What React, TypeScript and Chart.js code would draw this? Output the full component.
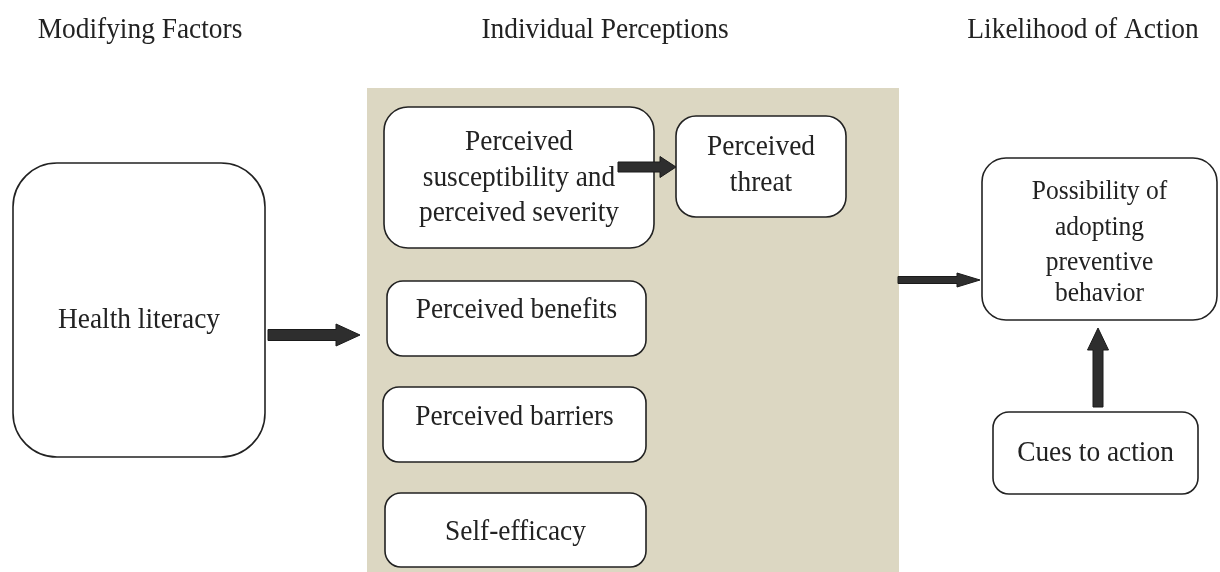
import React, { useEffect, useRef } from "react";
import { Chart, registerables } from "chart.js";

Chart.register(...registerables);

// Column headings
const headingLabels = ["Modifying Factors", "Individual Perceptions", "Likelihood of Action"];
const headingX = [140, 605, 1083];
const headingY = [30, 30, 30];

// Shaded panel (x0, x1, y0, y1)
const panelExtent = [367, 899, 88, 572];

// Boxes
const boxLabels = [
  ["Health literacy"],
  ["Perceived", "susceptibility and", "perceived severity"],
  ["Perceived", "threat"],
  ["Perceived benefits"],
  ["Perceived barriers"],
  ["Self-efficacy"],
  ["Possibility of", "adopting", "preventive", "behavior"],
  ["Cues to action"],
];
const boxX0 = [13, 384, 676, 387, 383, 385, 982, 993];
const boxX1 = [265, 654, 846, 646, 646, 646, 1217, 1198];
const boxY0 = [163, 107, 116, 281, 387, 493, 158, 412];
const boxY1 = [457, 248, 217, 356, 462, 567, 320, 494];
const boxRadius = [44, 24, 20, 16, 16, 16, 24, 16];
const boxFontSize = [27.4, 27.4, 27.4, 27.4, 27.4, 27.4, 25.5, 27.4];
const boxTextY = [
  [320],
  [142, 178, 213],
  [147, 183],
  [310],
  [417],
  [532],
  [192, 228, 263, 294],
  [453],
];

// Arrows (from -> to)
const arrowX0 = [268, 618, 898, 1098];
const arrowY0 = [335, 167, 280, 407];
const arrowX1 = [360, 676, 980, 1098];
const arrowY1 = [335, 167, 280, 328];
const arrowShaft = [11, 10, 7, 10];
const arrowHeadW = [22, 21, 14, 21];
const arrowHeadL = [24, 16, 23, 22];

const FONT = "'Liberation Serif', 'Times New Roman', serif";
const TEXT_VSCALE = 1.1;

function drawText(ctx: any, t: string, x: number, y: number, size: number) {
  ctx.save();
  ctx.font = `${size}px ${FONT}`;
  ctx.textAlign = "center";
  ctx.textBaseline = "middle";
  ctx.fillStyle = "#222";
  ctx.translate(x, y);
  ctx.scale(1, TEXT_VSCALE);
  ctx.fillText(t, 0, 0);
  ctx.restore();
}

const diagramPlugin = {
  id: "diagram",
  beforeDatasetsDraw(chart: any) {
    const ctx = chart.ctx;
    const xs = chart.scales.x;
    const ys = chart.scales.y;
    const px = (v: number) => xs.getPixelForValue(v);
    const py = (v: number) => ys.getPixelForValue(v);

    ctx.save();
    ctx.fillStyle = "#ffffff";
    ctx.fillRect(0, 0, chart.width, chart.height);

    ctx.fillStyle = "#dcd7c2";
    ctx.fillRect(px(panelExtent[0]), py(panelExtent[2]), px(panelExtent[1]) - px(panelExtent[0]), py(panelExtent[3]) - py(panelExtent[2]));

    headingLabels.forEach((t, i) => drawText(ctx, t, px(headingX[i]), py(headingY[i]), 27.4));

    boxLabels.forEach((lines, i) => {
      const x0 = px(boxX0[i]);
      const x1 = px(boxX1[i]);
      const y0 = py(boxY0[i]);
      const y1 = py(boxY1[i]);
      ctx.beginPath();
      ctx.roundRect(x0, y0, x1 - x0, y1 - y0, boxRadius[i]);
      ctx.fillStyle = "#ffffff";
      ctx.fill();
      ctx.lineWidth = 1.6;
      ctx.strokeStyle = "#222";
      ctx.stroke();
      const cx = (x0 + x1) / 2;
      lines.forEach((ln, j) => drawText(ctx, ln, cx, py(boxTextY[i][j]), boxFontSize[i]));
    });

    arrowX0.forEach((_, i) => {
      const ax = px(arrowX0[i]);
      const ay = py(arrowY0[i]);
      const bx = px(arrowX1[i]);
      const by = py(arrowY1[i]);
      const len = Math.hypot(bx - ax, by - ay);
      const ang = Math.atan2(by - ay, bx - ax);
      const s = arrowShaft[i] / 2;
      const hw = arrowHeadW[i] / 2;
      const hl = arrowHeadL[i];
      ctx.save();
      ctx.translate(ax, ay);
      ctx.rotate(ang);
      ctx.beginPath();
      ctx.moveTo(0, -s);
      ctx.lineTo(len - hl, -s);
      ctx.lineTo(len - hl, -hw);
      ctx.lineTo(len, 0);
      ctx.lineTo(len - hl, hw);
      ctx.lineTo(len - hl, s);
      ctx.lineTo(0, s);
      ctx.closePath();
      ctx.fillStyle = "#2e2e2e";
      ctx.fill();
      ctx.lineWidth = 1;
      ctx.strokeStyle = "#1a1a1a";
      ctx.stroke();
      ctx.restore();
    });
    ctx.restore();
  },
};

export default function App() {
  const ref = useRef<HTMLCanvasElement | null>(null);
  useEffect(() => {
    document.body.style.margin = "0";
    let chart: Chart | null = null;
    let cancelled = false;
    const build = () => {
      if (cancelled || !ref.current) return;
      chart = new Chart(ref.current, {
        type: "scatter",
        data: { datasets: [{ data: [], pointRadius: 0 }] },
        options: {
          animation: false,
          responsive: false,
          maintainAspectRatio: false,
          layout: { padding: 0 },
          events: [],
          plugins: { legend: { display: false }, tooltip: { enabled: false }, title: { display: false } },
          scales: {
            x: { type: "linear", min: 0, max: 1220, display: false },
            y: { type: "linear", min: 0, max: 572, reverse: true, display: false },
          },
        },
        plugins: [diagramPlugin],
      });
    };
    const fonts: any = (document as any).fonts;
    if (fonts && fonts.load) {
      Promise.all([fonts.load("27px 'Liberation Serif'")])
        .catch(() => null)
        .then(build);
    } else {
      build();
    }
    return () => {
      cancelled = true;
      if (chart) chart.destroy();
    };
  }, []);
  return (
    <div style={{ width: 1220, height: 572, position: "relative" }}>
      <canvas ref={ref} width={1220} height={572} style={{ display: "block" }} />
    </div>
  );
}
